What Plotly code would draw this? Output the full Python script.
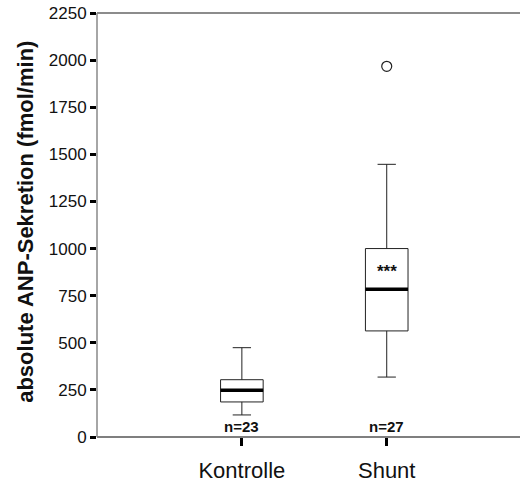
import plotly.graph_objects as go

groups = ["Kontrolle", "Shunt"]
positions = [0, 1]
q1 = [186, 563]
median = [248, 784]
q3 = [304, 1000]
lower_whisker = [117, 318]
upper_whisker = [474, 1447]
outlier_group = [1]
outlier_value = [1967]
n_labels = ["n=23", "n=27"]
sig_labels = ["", "***"]
sig_y = [None, 877]
yticks = [0, 250, 500, 750, 1000, 1250, 1500, 1750, 2000, 2250]
y_title = "absolute ANP-Sekretion (fmol/min)"

BOX_W = 0.294
FONT = "Liberation Sans, Arial, sans-serif"

fig = go.Figure()
fig.add_trace(go.Box(
    x=positions, q1=q1, median=median, q3=q3,
    lowerfence=lower_whisker, upperfence=upper_whisker,
    width=BOX_W, whiskerwidth=0.43,
    fillcolor="white", line=dict(color="#222222", width=1),
    boxpoints=False, showlegend=False, hoverinfo="skip",
))
fig.add_trace(go.Scatter(
    x=[positions[g] for g in outlier_group], y=outlier_value, mode="markers",
    marker=dict(symbol="circle-open", size=10, color="#222222", line=dict(width=1.2)),
    showlegend=False, hoverinfo="skip",
))
for p, m in zip(positions, median):
    fig.add_shape(type="line", xref="x", yref="y",
                  x0=p - BOX_W / 2, x1=p + BOX_W / 2, y0=m, y1=m,
                  line=dict(color="black", width=3.5))
# frame lines: top, bottom, left
fig.add_shape(type="line", xref="paper", yref="paper", x0=0, x1=1, y0=1, y1=1,
              line=dict(color="#666", width=1.5))
fig.add_shape(type="line", xref="paper", yref="paper", x0=0, x1=1, y0=0, y1=0,
              line=dict(color="#555", width=1.5))
fig.add_shape(type="line", xref="paper", yref="paper", x0=0, x1=0, y0=0, y1=1,
              line=dict(color="#888", width=1.5))
for p, t in zip(positions, n_labels):
    fig.add_annotation(x=p, y=58, text="<b>" + t + "</b>", showarrow=False,
                       font=dict(family=FONT, size=15, color="#111"))
for p, t, yy in zip(positions, sig_labels, sig_y):
    if t:
        fig.add_annotation(x=p, y=yy, text="<b>" + t + "</b>", showarrow=False,
                           font=dict(family=FONT, size=17, color="#111"))

fig.add_annotation(xref="paper", yref="paper", x=-0.205, y=0.507,
                   text="<b>" + y_title + "</b>", textangle=-90, showarrow=False,
                   font=dict(family=FONT, size=22, color="#111"))

fig.update_layout(
    width=520, height=485,
    margin=dict(l=97, r=0, t=13, b=48),
    paper_bgcolor="white", plot_bgcolor="white",
    font=dict(family=FONT, color="#222"),
    xaxis=dict(
        range=[-1, 1.92], tickvals=positions, ticktext=groups,
        showline=False,
        ticks="outside", ticklen=8, tickwidth=3, tickcolor="black",
        tickfont=dict(size=22, family=FONT, color="#111"),
        ticklabelstandoff=6,
        showgrid=False, zeroline=False,
    ),
    yaxis=dict(
        range=[0, 2250], tickvals=yticks,
        showline=False,
        ticks="outside", ticklen=6, tickwidth=3, tickcolor="black",
        tickfont=dict(size=17, family=FONT, color="#111"),
        showgrid=False, zeroline=False,
    ),
)
fig.write_html("out.html")
